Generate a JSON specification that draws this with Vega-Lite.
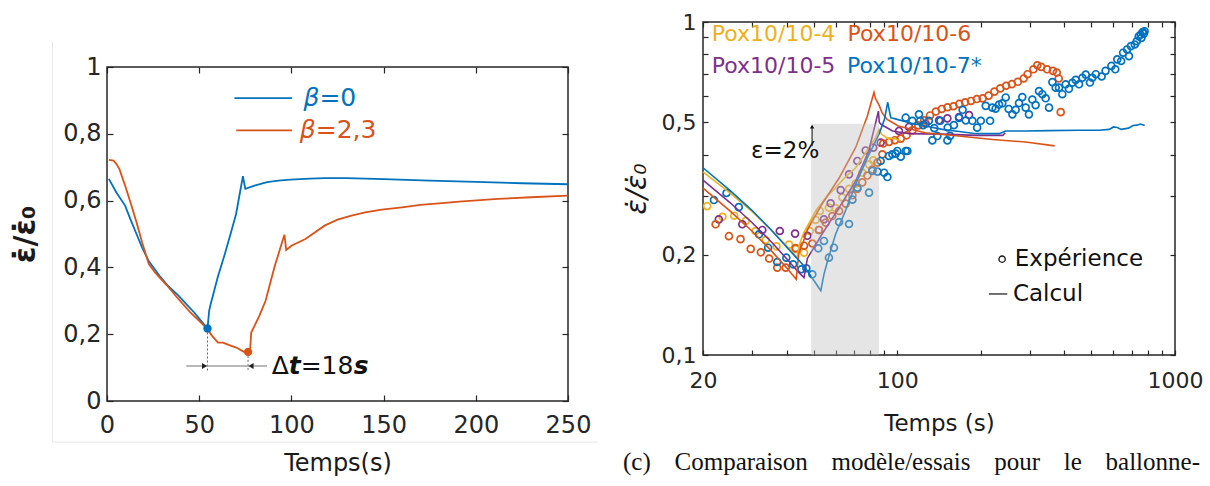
{
  "$schema": "https://vega.github.io/schema/vega-lite/v6.json",
  "background": "white",
  "padding": {"left": 10, "top": 10, "right": 0, "bottom": 0},
  "spacing": 23,
  "resolve": {"scale": {"color": "independent"}},
  "config": {
    "view": {"stroke": "#262626", "strokeWidth": 1.5},
    "font": "DejaVu Sans",
    "axis": {"grid": false, "domain": false, "tickColor": "#262626", "tickSize": -6, "tickWidth": 1.2, "labelColor": "#262626", "labelFont": "DejaVu Sans", "labelFontSize": 22, "titleFont": "DejaVu Sans", "titleFontWeight": "normal", "titleColor": "#1a1a1a", "labelFlush": false, "labelOverlap": false}
  },
  "datasets": {
    "leftLines": [
      {"s":"b0","t":1,"v":0.665},{"s":"b0","t":5,"v":0.625},{"s":"b0","t":9.8,"v":0.585},{"s":"b0","t":13,"v":0.54},{"s":"b0","t":16,"v":0.5},{"s":"b0","t":19,"v":0.46},{"s":"b0","t":22.7,"v":0.418},{"s":"b0","t":28.5,"v":0.375},{"s":"b0","t":33,"v":0.345},{"s":"b0","t":38.9,"v":0.315},{"s":"b0","t":43,"v":0.29},{"s":"b0","t":47.3,"v":0.265},{"s":"b0","t":51,"v":0.24},{"s":"b0","t":54.5,"v":0.217},{"s":"b0","t":55.4,"v":0.27},{"s":"b0","t":56,"v":0.285},{"s":"b0","t":60,"v":0.37},{"s":"b0","t":63.9,"v":0.44},{"s":"b0","t":67,"v":0.5},{"s":"b0","t":70,"v":0.56},{"s":"b0","t":73.7,"v":0.673},{"s":"b0","t":75,"v":0.635},{"s":"b0","t":80,"v":0.645},{"s":"b0","t":86.8,"v":0.655},{"s":"b0","t":93,"v":0.66},{"s":"b0","t":99.3,"v":0.663},{"s":"b0","t":110,"v":0.666},{"s":"b0","t":118,"v":0.667},{"s":"b0","t":130,"v":0.667},{"s":"b0","t":150,"v":0.664},{"s":"b0","t":175,"v":0.66},{"s":"b0","t":200,"v":0.656},{"s":"b0","t":225,"v":0.652},{"s":"b0","t":250,"v":0.649},
      {"s":"b23","t":1,"v":0.722},{"s":"b23","t":3.5,"v":0.72},{"s":"b23","t":5,"v":0.71},{"s":"b23","t":6.7,"v":0.695},{"s":"b23","t":9.8,"v":0.645},{"s":"b23","t":13,"v":0.59},{"s":"b23","t":16,"v":0.535},{"s":"b23","t":19,"v":0.475},{"s":"b23","t":22.7,"v":0.41},{"s":"b23","t":26,"v":0.385},{"s":"b23","t":32.7,"v":0.345},{"s":"b23","t":38,"v":0.31},{"s":"b23","t":45.2,"v":0.265},{"s":"b23","t":50,"v":0.24},{"s":"b23","t":54.5,"v":0.215},{"s":"b23","t":57,"v":0.195},{"s":"b23","t":60.2,"v":0.175},{"s":"b23","t":62.9,"v":0.175},{"s":"b23","t":66,"v":0.168},{"s":"b23","t":70.1,"v":0.16},{"s":"b23","t":74,"v":0.148},{"s":"b23","t":76.4,"v":0.143},{"s":"b23","t":77.7,"v":0.16},{"s":"b23","t":78.2,"v":0.205},{"s":"b23","t":80,"v":0.225},{"s":"b23","t":82.6,"v":0.255},{"s":"b23","t":86,"v":0.3},{"s":"b23","t":91,"v":0.405},{"s":"b23","t":93,"v":0.44},{"s":"b23","t":96.2,"v":0.498},{"s":"b23","t":97.2,"v":0.452},{"s":"b23","t":100,"v":0.465},{"s":"b23","t":107.6,"v":0.485},{"s":"b23","t":118,"v":0.525},{"s":"b23","t":125,"v":0.543},{"s":"b23","t":132.6,"v":0.555},{"s":"b23","t":140,"v":0.565},{"s":"b23","t":149,"v":0.573},{"s":"b23","t":160,"v":0.58},{"s":"b23","t":170,"v":0.587},{"s":"b23","t":180,"v":0.592},{"s":"b23","t":191,"v":0.597},{"s":"b23","t":212,"v":0.605},{"s":"b23","t":230,"v":0.61},{"s":"b23","t":250,"v":0.615}
    ],
    "leftDots": [
      {"s":"b0","t":54.5,"v":0.217},{"s":"b23","t":76.5,"v":0.147}
    ],
    "calc": [
      {"s":"4","x":20,"v":0.355},{"s":"4","x":25,"v":0.307},{"s":"4","x":30,"v":0.27},{"s":"4","x":35,"v":0.2386},{"s":"4","x":40,"v":0.2125},{"s":"4","x":43.6,"v":0.196},{"s":"4","x":44.5,"v":0.215},{"s":"4","x":46,"v":0.232},{"s":"4","x":50.9,"v":0.2706},{"s":"4","x":56,"v":0.3},{"s":"4","x":60,"v":0.318},{"s":"4","x":65,"v":0.342},{"s":"4","x":70.9,"v":0.365},{"s":"4","x":77,"v":0.405},{"s":"4","x":83.6,"v":0.449},{"s":"4","x":86,"v":0.476},{"s":"4","x":88,"v":0.46},{"s":"4","x":92,"v":0.448},{"s":"4","x":97.4,"v":0.4466},{"s":"4","x":103,"v":0.44},
      {"s":"5","x":20,"v":0.335},{"s":"5","x":25,"v":0.287},{"s":"5","x":30,"v":0.25},{"s":"5","x":35,"v":0.2199},{"s":"5","x":40,"v":0.1946},{"s":"5","x":44,"v":0.1776},{"s":"5","x":46.2,"v":0.1707},{"s":"5","x":47.5,"v":0.195},{"s":"5","x":53.6,"v":0.2304},{"s":"5","x":61.8,"v":0.277},{"s":"5","x":70.9,"v":0.333},{"s":"5","x":79,"v":0.41},{"s":"5","x":85.6,"v":0.54},{"s":"5","x":86.2,"v":0.5},{"s":"5","x":87.4,"v":0.493},{"s":"5","x":96.2,"v":0.4707},{"s":"5","x":110.4,"v":0.462},{"s":"5","x":145.5,"v":0.4605},{"s":"5","x":192.4,"v":0.4567},{"s":"5","x":240,"v":0.4567},{"s":"5","x":245,"v":0.465},
      {"s":"6","x":20,"v":0.317},{"s":"6","x":25,"v":0.271},{"s":"6","x":30,"v":0.2357},{"s":"6","x":35,"v":0.2068},{"s":"6","x":40,"v":0.1827},{"s":"6","x":43.3,"v":0.1687},{"s":"6","x":44.2,"v":0.2006},{"s":"6","x":47.9,"v":0.241},{"s":"6","x":53.6,"v":0.2836},{"s":"6","x":61.8,"v":0.34},{"s":"6","x":70.9,"v":0.42},{"s":"6","x":78,"v":0.52},{"s":"6","x":82.5,"v":0.615},{"s":"6","x":83.5,"v":0.59},{"s":"6","x":86.2,"v":0.561},{"s":"6","x":88.2,"v":0.534},{"s":"6","x":92,"v":0.51},{"s":"6","x":101,"v":0.487},{"s":"6","x":126,"v":0.465},{"s":"6","x":166.4,"v":0.4546},{"s":"6","x":220.6,"v":0.444},{"s":"6","x":290,"v":0.436},{"s":"6","x":369,"v":0.4246},
      {"s":"7","x":20,"v":0.365},{"s":"7","x":25,"v":0.312},{"s":"7","x":30,"v":0.272},{"s":"7","x":35,"v":0.2387},{"s":"7","x":40,"v":0.211},{"s":"7","x":46.2,"v":0.185},{"s":"7","x":50,"v":0.168},{"s":"7","x":53.1,"v":0.156},{"s":"7","x":54.5,"v":0.1747},{"s":"7","x":56,"v":0.19},{"s":"7","x":60,"v":0.2304},{"s":"7","x":65,"v":0.27},{"s":"7","x":70.9,"v":0.3255},{"s":"7","x":78,"v":0.39},{"s":"7","x":86,"v":0.46},{"s":"7","x":90,"v":0.51},{"s":"7","x":92.4,"v":0.574},{"s":"7","x":94.8,"v":0.516},{"s":"7","x":100,"v":0.51},{"s":"7","x":110.4,"v":0.498},{"s":"7","x":125,"v":0.488},{"s":"7","x":145.5,"v":0.476},{"s":"7","x":170,"v":0.468},{"s":"7","x":192.4,"v":0.462},{"s":"7","x":233,"v":0.462},{"s":"7","x":245.8,"v":0.4707},{"s":"7","x":290,"v":0.4707},{"s":"7","x":350,"v":0.472},{"s":"7","x":450,"v":0.473},{"s":"7","x":533,"v":0.473},{"s":"7","x":580,"v":0.476},{"s":"7","x":600,"v":0.484},{"s":"7","x":620,"v":0.482},{"s":"7","x":640,"v":0.476},{"s":"7","x":680,"v":0.48},{"s":"7","x":706,"v":0.489},{"s":"7","x":730,"v":0.49},{"s":"7","x":750,"v":0.494},{"s":"7","x":778,"v":0.489}
    ],
    "exp": [
      {"s":"4","x":20.7,"v":0.28},{"s":"4","x":23.5,"v":0.26},{"s":"4","x":25.9,"v":0.262},{"s":"4","x":28.5,"v":0.2526},{"s":"4","x":30.9,"v":0.2357},{"s":"4","x":33.6,"v":0.2215},{"s":"4","x":36.8,"v":0.212},{"s":"4","x":40.8,"v":0.2145},{"s":"4","x":43.1,"v":0.208},{"s":"4","x":46.2,"v":0.203},{"s":"4","x":48.5,"v":0.2357},{"s":"4","x":50.9,"v":0.2545},{"s":"4","x":52.7,"v":0.2707},{"s":"4","x":56.8,"v":0.277},{"s":"4","x":60.1,"v":0.276},{"s":"4","x":63.5,"v":0.2975},{"s":"4","x":67.1,"v":0.3155},{"s":"4","x":70.9,"v":0.327},{"s":"4","x":74.9,"v":0.3525},{"s":"4","x":79.2,"v":0.3737},{"s":"4","x":82,"v":0.384},
      {"s":"5","x":22.8,"v":0.2555},{"s":"5","x":27.7,"v":0.2469},{"s":"5","x":32.7,"v":0.2374},{"s":"5","x":37.8,"v":0.2357},{"s":"5","x":42.9,"v":0.2315},{"s":"5","x":47.5,"v":0.228},{"s":"5","x":52.3,"v":0.2374},{"s":"5","x":54.5,"v":0.2555},{"s":"5","x":57.6,"v":0.2855},{"s":"5","x":62.6,"v":0.3127},{"s":"5","x":67.1,"v":0.3487},{"s":"5","x":71.9,"v":0.3825},{"s":"5","x":77,"v":0.4113},{"s":"5","x":82,"v":0.4195},{"s":"5","x":87.2,"v":0.4344},{"s":"5","x":101.5,"v":0.4707},{"s":"5","x":110.3,"v":0.484},{"s":"5","x":126.6,"v":0.495},{"s":"5","x":141.5,"v":0.5066},{"s":"5","x":151.6,"v":0.5137},{"s":"5","x":167,"v":0.5185},{"s":"5","x":181.4,"v":0.5256},
      {"s":"6","x":22.2,"v":0.2469},{"s":"6","x":24.8,"v":0.2274},{"s":"6","x":27.3,"v":0.2228},{"s":"6","x":29.7,"v":0.2083},{"s":"6","x":32.3,"v":0.2034},{"s":"6","x":34.6,"v":0.1948},{"s":"6","x":37,"v":0.183},{"s":"6","x":39.7,"v":0.183},{"s":"6","x":43.1,"v":0.2094},{"s":"6","x":46.2,"v":0.2129},{"s":"6","x":49.5,"v":0.2162},{"s":"6","x":52.3,"v":0.2374},{"s":"6","x":55.3,"v":0.2498},{"s":"6","x":58.4,"v":0.2614},{"s":"6","x":61.8,"v":0.2707},{"s":"6","x":65.3,"v":0.2849},{"s":"6","x":69,"v":0.3017},{"s":"6","x":71.9,"v":0.3155},{"s":"6","x":74.9,"v":0.33},{"s":"6","x":78.1,"v":0.3459},{"s":"6","x":81.4,"v":0.3606},{"s":"6","x":84.9,"v":0.3781},{"s":"6","x":88.4,"v":0.4006},{"s":"6","x":89.1,"v":0.4315},{"s":"6","x":93.5,"v":0.4364},{"s":"6","x":98.1,"v":0.4415},{"s":"6","x":103,"v":0.4466},{"s":"6","x":108.1,"v":0.4568},{"s":"6","x":113.5,"v":0.4727},{"s":"6","x":119.1,"v":0.4892},{"s":"6","x":125.1,"v":0.5064},{"s":"6","x":131.3,"v":0.524},{"s":"6","x":137.8,"v":0.5383},{"s":"6","x":144.7,"v":0.548},{"s":"6","x":151.8,"v":0.5546},{"s":"6","x":159.4,"v":0.5585},{"s":"6","x":167.3,"v":0.5675},{"s":"6","x":175.6,"v":0.574},{"s":"6","x":184.3,"v":0.5793},{"s":"6","x":193.5,"v":0.587},{"s":"6","x":203.1,"v":0.5898},{"s":"6","x":213.3,"v":0.601},{"s":"6","x":223.8,"v":0.6178},{"s":"6","x":234.9,"v":0.6319},{"s":"6","x":246.6,"v":0.6435},{"s":"6","x":258.8,"v":0.6509},{"s":"6","x":271.8,"v":0.6614},{"s":"6","x":285.3,"v":0.6767},{"s":"6","x":294.6,"v":0.697},{"s":"6","x":309.3,"v":0.721},{"s":"6","x":319.4,"v":0.7413},{"s":"6","x":329.9,"v":0.733},{"s":"6","x":346.3,"v":0.721},{"s":"6","x":363.5,"v":0.7133},{"s":"6","x":375.4,"v":0.7052},{"s":"6","x":381.5,"v":0.6767},{"s":"6","x":387.8,"v":0.5361},
      {"s":"7","x":21.9,"v":0.292},{"s":"7","x":24.3,"v":0.3065},{"s":"7","x":26.9,"v":0.278},{"s":"7","x":31.8,"v":0.2304},{"s":"7","x":34.3,"v":0.21},{"s":"7","x":37,"v":0.1902},{"s":"7","x":39.9,"v":0.196},{"s":"7","x":42.2,"v":0.1872},{"s":"7","x":45.2,"v":0.1809},{"s":"7","x":47.1,"v":0.1822},{"s":"7","x":49.5,"v":0.1747},{"s":"7","x":52,"v":0.2091},{"s":"7","x":54.5,"v":0.22},{"s":"7","x":56.8,"v":0.196},{"s":"7","x":59.2,"v":0.21},{"s":"7","x":61.8,"v":0.2508},{"s":"7","x":67.1,"v":0.2474},{"s":"7","x":69,"v":0.2927},{"s":"7","x":71.9,"v":0.318},{"s":"7","x":79.2,"v":0.3073},{"s":"7","x":81.4,"v":0.357},{"s":"7","x":84.9,"v":0.3553},{"s":"7","x":87.2,"v":0.3825},{"s":"7","x":89.7,"v":0.3527},{"s":"7","x":92.2,"v":0.3423},{"s":"7","x":93.4,"v":0.396},{"s":"7","x":96.1,"v":0.4006},{"s":"7","x":98.8,"v":0.4025},{"s":"7","x":100.1,"v":0.41},{"s":"7","x":103,"v":0.394},{"s":"7","x":107.3,"v":0.41},{"s":"7","x":108.8,"v":0.41},{"s":"7","x":107.3,"v":0.516},{"s":"7","x":113.4,"v":0.505},{"s":"7","x":119.8,"v":0.528},{"s":"7","x":121,"v":0.505},{"s":"7","x":124,"v":0.49},{"s":"7","x":130,"v":0.505},{"s":"7","x":133.8,"v":0.441},{"s":"7","x":136,"v":0.48},{"s":"7","x":139.5,"v":0.4545},{"s":"7","x":143,"v":0.505},{"s":"7","x":151.6,"v":0.441},{"s":"7","x":152,"v":0.482},{"s":"7","x":155,"v":0.455},{"s":"7","x":160,"v":0.49},{"s":"7","x":167,"v":0.515},{"s":"7","x":172,"v":0.545},{"s":"7","x":176.5,"v":0.506},{"s":"7","x":186.5,"v":0.505},{"s":"7","x":194,"v":0.4817},{"s":"7","x":200,"v":0.505},{"s":"7","x":208.3,"v":0.56},{"s":"7","x":216,"v":0.505},{"s":"7","x":220,"v":0.553},{"s":"7","x":226,"v":0.549},{"s":"7","x":232.6,"v":0.565},{"s":"7","x":239,"v":0.57},{"s":"7","x":245.8,"v":0.5935},{"s":"7","x":252,"v":0.548},{"s":"7","x":259.8,"v":0.528},{"s":"7","x":267,"v":0.545},{"s":"7","x":274.5,"v":0.571},{"s":"7","x":282,"v":0.595},{"s":"7","x":290.1,"v":0.553},{"s":"7","x":298,"v":0.528},{"s":"7","x":306.6,"v":0.585},{"s":"7","x":315,"v":0.563},{"s":"7","x":324,"v":0.62},{"s":"7","x":333,"v":0.607},{"s":"7","x":342.4,"v":0.59},{"s":"7","x":352,"v":0.553},{"s":"7","x":361.9,"v":0.66},{"s":"7","x":372,"v":0.635},{"s":"7","x":382.4,"v":0.6352},{"s":"7","x":393,"v":0.607},{"s":"7","x":404.2,"v":0.65},{"s":"7","x":415,"v":0.63},{"s":"7","x":427.1,"v":0.657},{"s":"7","x":439,"v":0.67},{"s":"7","x":451.4,"v":0.65},{"s":"7","x":464,"v":0.68},{"s":"7","x":477.1,"v":0.695},{"s":"7","x":494.2,"v":0.658},{"s":"7","x":504.2,"v":0.68},{"s":"7","x":518.7,"v":0.697},{"s":"7","x":544.5,"v":0.686},{"s":"7","x":562.3,"v":0.7133},{"s":"7","x":590.2,"v":0.738},{"s":"7","x":609.6,"v":0.721},{"s":"7","x":619.6,"v":0.7724},{"s":"7","x":640,"v":0.7636},{"s":"7","x":650.6,"v":0.8087},{"s":"7","x":672.1,"v":0.827},{"s":"7","x":682.9,"v":0.79},{"s":"7","x":693.9,"v":0.8465},{"s":"7","x":716.6,"v":0.856},{"s":"7","x":728.6,"v":0.876},{"s":"7","x":740.4,"v":0.906},{"s":"7","x":752.4,"v":0.917},{"s":"7","x":757,"v":0.896},{"s":"7","x":764.6,"v":0.932},{"s":"7","x":772,"v":0.923},{"s":"7","x":777.3,"v":0.938}
    ]
  },
  "hconcat": [
    {
      "spacing": 0,
      "resolve": {"scale": {"color": "independent"}},
      "vconcat": [
        {
          "width": 461, "height": 18,
          "view": {"stroke": null},
          "data": {"values": [{}]},
          "mark": {"type": "point", "opacity": 0}
        },
        {
          "width": 461, "height": 334,
          "resolve": {"axis": {"x": "independent", "y": "independent"}},
          "layer": [
            {
              "data": {"name": "leftLines"},
              "mark": {"type": "line", "strokeWidth": 1.8},
              "encoding": {
                "x": {"field": "t", "type": "quantitative", "scale": {"domain": [0, 250], "nice": false},
                      "axis": {"values": [0,50,100,150,200,250], "format": "d", "title": "Temps(s)", "titleFontSize": 24, "labelFontSize": 24, "labelPadding": 18, "titlePadding": 14}},
                "y": {"field": "v", "type": "quantitative", "scale": {"domain": [0, 1], "nice": false},
                      "axis": {"values": [0,0.2,0.4,0.6,0.8,1], "format": "~g", "labelExpr": "replace(datum.label, '.', ',')", "title": "ε̇/ε̇₀", "titleFontSize": 30, "titleFontWeight": "bold", "labelFontSize": 24, "labelPadding": 12, "titlePadding": 22}},
                "color": {"field": "s", "type": "nominal", "scale": {"domain": ["b0","b23"], "range": ["#0072BD","#D95319"]}, "legend": null}
              }
            },
            {
              "data": {"name": "leftDots"},
              "mark": {"type": "point", "opacity": 0},
              "encoding": {
                "x": {"field": "t", "type": "quantitative", "axis": {"orient": "top", "values": [0,50,100,150,200,250], "labels": false, "title": null}},
                "y": {"field": "v", "type": "quantitative", "axis": {"orient": "right", "values": [0,0.2,0.4,0.6,0.8,1], "labels": false, "title": null}}
              }
            },
            {
              "data": {"values": [{}]},
              "mark": {"type": "rule", "color": "#e6e6e6", "strokeWidth": 1},
              "encoding": {"x": {"datum": -29.6, "axis": null}, "y": {"datum": 1.075, "axis": null}, "y2": {"datum": -0.123}}
            },
            {
              "data": {"values": [{}]},
              "mark": {"type": "rule", "color": "#e6e6e6", "strokeWidth": 1},
              "encoding": {"x": {"datum": -29.6, "axis": null}, "x2": {"datum": 266}, "y": {"datum": -0.123, "axis": null}}
            },
            {
              "data": {"name": "leftDots"},
              "mark": {"type": "rule", "strokeDash": [2, 2], "strokeWidth": 0.8, "color": "#444"},
              "encoding": {
                "x": {"field": "t", "type": "quantitative", "axis": null},
                "y": {"field": "v", "type": "quantitative", "axis": null},
                "y2": {"datum": 0.09}
              }
            },
            {
              "data": {"name": "leftDots"},
              "mark": {"type": "point", "filled": true, "opacity": 1, "size": 70},
              "encoding": {
                "x": {"field": "t", "type": "quantitative", "axis": null},
                "y": {"field": "v", "type": "quantitative", "axis": null},
                "color": {"field": "s", "type": "nominal", "legend": null}
              }
            },
            {
              "data": {"values": [{}]},
              "mark": {"type": "rule", "color": "#a0a0a0", "strokeWidth": 1.5},
              "encoding": {"x": {"datum": 43, "axis": null}, "x2": {"datum": 86.8}, "y": {"datum": 0.105, "axis": null}}
            },
            {
              "data": {"values": [{}]},
              "mark": {"type": "point", "shape": "triangle-right", "filled": true, "size": 35, "color": "#222", "opacity": 1},
              "encoding": {"x": {"datum": 52.9, "axis": null}, "y": {"datum": 0.105, "axis": null}}
            },
            {
              "data": {"values": [{}]},
              "mark": {"type": "point", "shape": "triangle-left", "filled": true, "size": 35, "color": "#222", "opacity": 1},
              "encoding": {"x": {"datum": 78.1, "axis": null}, "y": {"datum": 0.105, "axis": null}}
            },
            {
              "data": {"values": [{}]},
              "mark": {"type": "text", "text": "Δ", "fontSize": 25, "align": "left", "baseline": "middle", "color": "#111"},
              "encoding": {"x": {"datum": 89.3, "axis": null}, "y": {"datum": 0.105, "axis": null}}
            },
            {
              "data": {"values": [{}]},
              "mark": {"type": "text", "text": "t", "fontSize": 25, "fontStyle": "italic", "fontWeight": "bold", "align": "left", "baseline": "middle", "color": "#111", "dx": 17},
              "encoding": {"x": {"datum": 89.3, "axis": null}, "y": {"datum": 0.105, "axis": null}}
            },
            {
              "data": {"values": [{}]},
              "mark": {"type": "text", "text": "=18", "fontSize": 25, "align": "left", "baseline": "middle", "color": "#111", "dx": 29},
              "encoding": {"x": {"datum": 89.3, "axis": null}, "y": {"datum": 0.105, "axis": null}}
            },
            {
              "data": {"values": [{}]},
              "mark": {"type": "text", "text": "s", "fontSize": 25, "fontStyle": "italic", "fontWeight": "bold", "align": "left", "baseline": "middle", "color": "#111", "dx": 82},
              "encoding": {"x": {"datum": 89.3, "axis": null}, "y": {"datum": 0.105, "axis": null}}
            },
            {
              "data": {"values": [{}]},
              "mark": {"type": "rule", "color": "#0072BD", "strokeWidth": 1.8},
              "encoding": {"x": {"datum": 69.1, "axis": null}, "x2": {"datum": 100.3}, "y": {"datum": 0.907, "axis": null}}
            },
            {
              "data": {"values": [{}]},
              "mark": {"type": "rule", "color": "#D95319", "strokeWidth": 1.8},
              "encoding": {"x": {"datum": 70.1, "axis": null}, "x2": {"datum": 100.3}, "y": {"datum": 0.81, "axis": null}}
            },
            {
              "data": {"values": [{}]},
              "mark": {"type": "text", "text": "β", "fontSize": 25, "fontStyle": "italic", "align": "left", "baseline": "middle", "color": "#0072BD"},
              "encoding": {"x": {"datum": 106.5, "axis": null}, "y": {"datum": 0.907, "axis": null}}
            },
            {
              "data": {"values": [{}]},
              "mark": {"type": "text", "text": "=0", "fontSize": 25, "align": "left", "baseline": "middle", "color": "#0072BD", "dx": 16},
              "encoding": {"x": {"datum": 106.5, "axis": null}, "y": {"datum": 0.907, "axis": null}}
            },
            {
              "data": {"values": [{}]},
              "mark": {"type": "text", "text": "β", "fontSize": 25, "fontStyle": "italic", "align": "left", "baseline": "middle", "color": "#D95319"},
              "encoding": {"x": {"datum": 104.5, "axis": null}, "y": {"datum": 0.81, "axis": null}}
            },
            {
              "data": {"values": [{}]},
              "mark": {"type": "text", "text": "=2,3", "fontSize": 25, "align": "left", "baseline": "middle", "color": "#D95319", "dx": 16},
              "encoding": {"x": {"datum": 104.5, "axis": null}, "y": {"datum": 0.81, "axis": null}}
            }
          ]
        }
      ]
    },
    {
      "width": 472, "height": 333,
      "title": {"text": "(c)\u2002\u2009 Comparaison\u2002\u2009 modèle/essais\u2002\u2009 pour\u2002\u2009 le\u2002\u2009 ballonne-", "orient": "bottom", "anchor": "start", "frame": "bounds", "font": "Liberation Serif", "fontSize": 25, "fontWeight": "normal", "color": "#111", "offset": 15},
      "resolve": {"axis": {"x": "independent", "y": "independent"}},
      "layer": [
        {
          "data": {"name": "exp"},
          "mark": {"type": "point", "filled": false, "size": 48, "strokeWidth": 1.7, "opacity": 1},
          "encoding": {
            "x": {"field": "x", "type": "quantitative", "scale": {"type": "log", "domain": [20, 1000], "nice": false},
                  "axis": {"values": [20,30,40,50,60,70,80,90,100,200,300,400,500,600,700,800,900,1000], "format": "d", "labelExpr": "indexof([20,100,1000], datum.value) >= 0 ? datum.label : ''", "title": "Temps (s)", "titleFontSize": 23, "labelFontSize": 22, "labelPadding": 20, "titlePadding": 21, "tickSize": -5}},
            "y": {"field": "v", "type": "quantitative", "scale": {"type": "log", "domain": [0.1, 1], "nice": false},
                  "axis": {"values": [0.1,0.2,0.3,0.4,0.5,0.6,0.7,0.8,0.9,1], "format": "~g", "labelExpr": "indexof([0.1,0.2,0.5,1], datum.value) >= 0 ? replace(datum.label, '.', ',') : ''", "title": "ε̇/ε̇₀", "titleFontSize": 28, "titleFontStyle": "italic", "labelFontSize": 22, "labelPadding": 12, "titlePadding": 10, "tickSize": -5}},
            "color": {"field": "s", "type": "nominal", "scale": {"domain": ["4","5","6","7"], "range": ["#EDB120","#7E2F8E","#D95319","#0072BD"]}, "legend": null}
          }
        },
        {
          "data": {"name": "calc"},
          "mark": {"type": "line", "strokeWidth": 1.6},
          "encoding": {
            "x": {"field": "x", "type": "quantitative", "axis": {"orient": "top", "values": [20,30,40,50,60,70,80,90,100,200,300,400,500,600,700,800,900,1000], "labels": false, "title": null, "tickSize": -5}},
            "y": {"field": "v", "type": "quantitative", "axis": {"orient": "right", "values": [0.1,0.2,0.3,0.4,0.5,0.6,0.7,0.8,0.9,1], "labels": false, "title": null, "tickSize": -5}},
            "color": {"field": "s", "type": "nominal", "legend": null}
          }
        },
        {
          "data": {"values": [{}]},
          "mark": {"type": "rect", "color": "#bfbfbf", "opacity": 0.4},
          "encoding": {"x": {"datum": 49, "axis": null}, "x2": {"datum": 86}, "y": {"datum": 0.1, "axis": null}, "y2": {"datum": 0.495}}
        },
        {
          "data": {"values": [{}]},
          "mark": {"type": "rule", "color": "#111", "strokeWidth": 1},
          "encoding": {"x": {"datum": 49.4, "axis": null}, "y": {"datum": 0.424, "axis": null}, "y2": {"datum": 0.485}}
        },
        {
          "data": {"values": [{}]},
          "mark": {"type": "point", "shape": "triangle-up", "filled": true, "size": 20, "color": "#111", "opacity": 1},
          "encoding": {"x": {"datum": 49.4, "axis": null}, "y": {"datum": 0.485, "axis": null}}
        },
        {
          "data": {"values": [{}]},
          "mark": {"type": "text", "text": "ε=2%", "fontSize": 23, "align": "left", "baseline": "middle", "color": "#111"},
          "encoding": {"x": {"datum": 29.8, "axis": null}, "y": {"datum": 0.41, "axis": null}}
        },
        {
          "data": {"values": [{}]},
          "mark": {"type": "text", "text": "Pox10/10-4", "fontSize": 22, "align": "left", "baseline": "middle", "color": "#EDB120"},
          "encoding": {"x": {"datum": 21.5, "axis": null}, "y": {"datum": 0.92, "axis": null}}
        },
        {
          "data": {"values": [{}]},
          "mark": {"type": "text", "text": "Pox10/10-6", "fontSize": 22, "align": "left", "baseline": "middle", "color": "#D95319"},
          "encoding": {"x": {"datum": 66.3, "axis": null}, "y": {"datum": 0.92, "axis": null}}
        },
        {
          "data": {"values": [{}]},
          "mark": {"type": "text", "text": "Pox10/10-5", "fontSize": 22, "align": "left", "baseline": "middle", "color": "#7E2F8E"},
          "encoding": {"x": {"datum": 21.5, "axis": null}, "y": {"datum": 0.738, "axis": null}}
        },
        {
          "data": {"values": [{}]},
          "mark": {"type": "text", "text": "Pox10/10-7*", "fontSize": 22, "align": "left", "baseline": "middle", "color": "#0072BD"},
          "encoding": {"x": {"datum": 66, "axis": null}, "y": {"datum": 0.738, "axis": null}}
        },
        {
          "data": {"values": [{}]},
          "mark": {"type": "point", "filled": false, "size": 40, "strokeWidth": 1.3, "color": "#111", "opacity": 1},
          "encoding": {"x": {"datum": 238.6, "axis": null}, "y": {"datum": 0.194, "axis": null}}
        },
        {
          "data": {"values": [{}]},
          "mark": {"type": "text", "text": "Expérience", "fontSize": 23, "align": "left", "baseline": "middle", "color": "#111"},
          "encoding": {"x": {"datum": 265, "axis": null}, "y": {"datum": 0.194, "axis": null}}
        },
        {
          "data": {"values": [{}]},
          "mark": {"type": "rule", "color": "#111", "strokeWidth": 1.2},
          "encoding": {"x": {"datum": 214, "axis": null}, "x2": {"datum": 249}, "y": {"datum": 0.1525, "axis": null}}
        },
        {
          "data": {"values": [{}]},
          "mark": {"type": "text", "text": "Calcul", "fontSize": 23, "align": "left", "baseline": "middle", "color": "#111"},
          "encoding": {"x": {"datum": 261, "axis": null}, "y": {"datum": 0.1525, "axis": null}}
        }
      ]
    }
  ]
}
